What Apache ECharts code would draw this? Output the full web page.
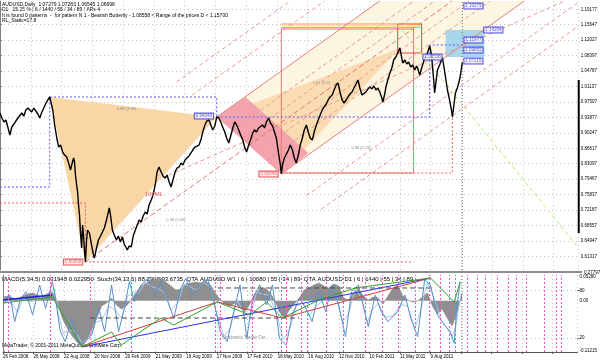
<!DOCTYPE html>
<html><head><meta charset="utf-8">
<script src="https://cdn.jsdelivr.net/npm/echarts@6.0.0/dist/echarts.min.js"></script>
<style>html,body{margin:0;padding:0;background:#fff;}#chart{width:600px;height:362px;}</style>
</head><body><div id="chart"></div>
<script>
// ---------- DATA (x = weeks since 26 Feb 2008) ----------
const dateLabels = ['26 Feb 2008','26 May 2008','22 Aug 2008','20 Nov 2008','20 Feb 2009','21 May 2009','19 Aug 2009','17 Nov 2009','17 Feb 2010','18 May 2010','16 Aug 2010','12 Nov 2010','10 Feb 2011','11 May 2011','9 Aug 2011'];
const priceTicks = [1.19177,1.15647,1.12027,1.08397,1.04787,1.01137,0.97507,0.93877,0.90247,0.86617,0.83097,0.79467,0.75837,0.72187,0.68557,0.64947,0.61317];
const currentPrice = 1.06698;
const currentWeek = 195.4;
const currentTime = '2011.10.28 09:43';

const priceSeries = [
[0,0.9492],[0.8,0.9376],[1.7,0.9282],[2.5,0.9329],[3.4,0.9142],[4.2,0.8978],[5.0,0.9165],[5.9,0.9235],[6.7,0.9305],[7.6,0.9376],[8.4,0.9399],[9.2,0.9492],[10.1,0.9422],[10.9,0.9563],[11.8,0.9609],[12.6,0.9633],[13.4,0.9516],[14.3,0.9609],[15.1,0.9563],[16.0,0.9469],[16.8,0.9376],[17.7,0.9516],[18.5,0.9609],[19.3,0.9703],[20.2,0.9797],[21.0,0.9867],
[21.9,0.9656],[22.3,0.9563],[23.1,0.9212],[24.0,0.8908],[24.8,0.8697],[25.6,0.8744],[26.5,0.8580],[27.3,0.8510],[28.2,0.8463],[29.0,0.8323],[29.8,0.8159],[30.3,0.8276],[31.1,0.8440],[31.5,0.8346],[31.9,0.8042],[32.4,0.7809],[32.8,0.7645],[33.2,0.7341],[33.6,0.7107],[34.0,0.6709],[34.5,0.6335],[34.9,0.6873],[35.3,0.6639],[35.7,0.6288],[36.1,0.6008],
[36.6,0.6522],[37.0,0.6756],[37.8,0.6686],[38.7,0.6405],[39.5,0.6172],[39.9,0.6101],[40.8,0.6335],[41.6,0.6522],[42.5,0.6616],[43.3,0.6709],[44.1,0.6803],[45.0,0.6990],[45.8,0.7177],[46.2,0.7271],[46.7,0.7107],[47.5,0.6756],[48.3,0.6639],[49.2,0.6522],[50.0,0.6616],[50.9,0.6476],[51.7,0.6592],[52.5,0.6429],[53.4,0.6335],[53.8,0.6288],[54.6,0.6382],[55.5,0.6359],[56.3,0.6616],[57.2,0.6756],[58.0,0.6873],
[58.8,0.6990],[59.7,0.6943],[60.5,0.7084],[61.4,0.7177],[62.2,0.7130],[63.0,0.7341],[63.9,0.7458],[64.7,0.7575],[65.6,0.7809],[66.4,0.8113],[67.2,0.8230],[68.1,0.8113],[68.9,0.8019],[69.8,0.7972],[70.6,0.8042],[71.5,0.7879],[72.3,0.7762],[73.1,0.7926],[74.0,0.8113],[74.8,0.8206],[75.7,0.8230],[76.5,0.8323],[77.3,0.8276],[78.2,0.8393],[79.0,0.8440],[79.9,0.8487],[80.7,0.8557],[81.5,0.8627],[82.4,0.8697],[83.2,0.8674],[84.1,0.8744],[84.9,0.8861],[85.7,0.9048],[86.6,0.9212],[87.4,0.9305],[88.3,0.9329],[89.1,0.9212],[89.9,0.9095],[90.8,0.9188],[91.6,0.9399],[92.5,0.9376],[93.3,0.9282],[94.1,0.9165],[95.0,0.9048],[95.8,0.8908],[96.7,0.8791],[97.5,0.8955],[98.4,0.9142],[99.2,0.9282],[100.0,0.9212],[100.9,0.9095],[101.7,0.8978],[102.6,0.8861],[103.4,0.8697],[104.2,0.8580],
[105.1,0.8744],[105.9,0.8861],[106.8,0.9025],[107.6,0.9095],[108.4,0.9048],[109.3,0.9142],[110.1,0.9165],[111.0,0.9212],[111.8,0.9142],[112.6,0.9282],[113.5,0.9376],[114.3,0.9259],[115.2,0.9188],[116.0,0.9142],[116.8,0.8908],[117.7,0.8557],[118.5,0.8276],[118.9,0.8066],[119.4,0.8276],[120.2,0.8440],[121.0,0.8463],[121.9,0.8627],[122.7,0.8744],[123.6,0.8627],[124.4,0.8440],[125.2,0.8323],[126.1,0.8510],[126.9,0.8744],[127.8,0.8908],[128.6,0.9095],[129.5,0.9212],[130.3,0.9048],[131.1,0.8908],[132.0,0.8861],[132.8,0.9048],[133.7,0.9212],[134.5,0.9329],[135.3,0.9446],[136.2,0.9563],[137.0,0.9633],[137.9,0.9703],[138.7,0.9797],[139.5,0.9867],[140.4,0.9913],[141.2,1.0030],[142.1,1.0147],[142.9,1.0194],[143.7,0.9984],[144.6,0.9797],[145.4,0.9726],[146.3,0.9797],[147.1,0.9867],[147.9,0.9937],[148.8,0.9984],[149.6,1.0077],[150.5,1.0171],[151.3,1.0264],[152.1,1.0077],[153.0,0.9913],[153.8,0.9867],[154.7,0.9984],[155.5,1.0054],[156.4,1.0101],[157.2,1.0054],[158.0,1.0124],[158.9,1.0030],[159.7,1.0077],[160.5,0.9984],[161.4,0.9843],[161.8,0.9750],[162.7,0.9960],[163.1,1.0101],[163.9,1.0264],[164.8,1.0428],[165.6,1.0545],[166.4,1.0732],[167.3,1.0802],[168.1,1.0896],[169.0,1.1013],[169.8,1.0779],[170.2,1.0662],[171.1,1.0732],[171.9,1.0638],[172.7,1.0685],[173.6,1.0568],[174.4,1.0615],[175.3,1.0498],[176.1,1.0592],[176.5,1.0545],[177.4,1.0381],[178.2,1.0545],[179.0,1.0685],[179.5,1.0779],[180.3,1.0849],[181.1,1.0966],[181.6,1.1059],[182.4,1.0849],[182.8,1.0568],[183.3,1.0264],[183.7,0.9960],[184.1,1.0147],[184.9,1.0498],[185.8,1.0615],[186.6,1.0732],[187.0,1.0779],[187.5,1.0615],[188.3,1.0334],[189.1,1.0030],[190.0,0.9797],[190.8,0.9563],[191.2,0.9399],[191.7,0.9609],[192.1,0.9797],[192.5,0.9960],[193.3,1.0077],[194.2,1.0264],[194.6,1.0381],[195.4,1.0670]
];

// Butterfly pattern zones
const zoneXAB = [[21.0,0.9867],[36.1,0.6008],[91.6,0.9399]];
const zoneBCD = [[91.6,0.9399],[118.9,0.8066],[169.0,1.1013]];
const zonePink = [[91.6,0.9399],[103.8,0.9867],[130.3,0.8557],[118.9,0.8066]];
const zoneFork = [[91.6,0.9399],[160.5,1.2112],[221.6,1.2112],[118.9,0.8066]];
const boxBig = [[118.9,1.1457],[174.8,0.8089]];
const boxRed = [[168.1,1.1574],[178.2,1.0896]];
const boxBlue = [[188.3,1.1434],[204.7,1.0802]];
const levelOrange = [[118.9,1.1574],[177.8,1.1574]];
const levelYellow = [[118.9,1.1527],[177.8,1.1527]];
const levelCyan = [[118.9,1.1492],[177.8,1.1492]];
const guideBlueX = [[0,0.7762],[21.0,0.7762],[21.0,0.9867],[91.6,0.9867],[91.6,0.9399]];
const guideBlueB = [[91.6,0.9399],[181.6,0.9399],[181.6,1.1083],[196.3,1.1083]];
const guideRedA = [[0,0.7388],[36.1,0.7388],[36.1,0.6008],[174.8,0.6008]];
const guideRedC = [[118.9,0.8089],[191.2,0.8089],[191.2,0.9399]];
const greenProjection = [[168.1,1.1551],[244.6,0.6335]];
// Andrews pitchfork (pivot A, handles B and C) and its Fibonacci lines
const forkTines = [
  [[91.6,0.9399],[160.5,1.2112]],
  [[118.9,0.8066],[221.6,1.2112]]
];
const forkMedian = [[36.1,0.6008],[191.1,1.2112]];
const forkLevels = [
  [[112.5,0.8382],[207.2,1.2112]],
  [[108.5,0.8576],[198.3,1.2112]],
  [[102.0,0.8889],[183.8,1.2112]],
  [[98.1,0.9083],[174.9,1.2112]],
  [[81.2,0.9909],[137.2,1.2112]],
  [[74.7,1.0222],[122.7,1.2112]],
  [[129.4,0.7556],[244.6,1.2086]],
  [[135.8,0.7243],[244.6,1.1527]],
  [[68.5,0.7972],[238.7,1.2112]]
];
const priceBoxes = [
  [30.9,0.6008,'0.60068','r'],[86.2,0.9422,'0.94048','b'],[113.5,0.8066,'0.80648','r'],[182.8,1.0802,'1.08558','b'],
  [200.1,1.1995,'1.16279','b'],[208.5,1.1434,'1.14264','b'],[200.1,1.1200,'1.11977','b'],[200.1,1.0966,'1.09865','b'],[200.1,1.0709,'1.07215','b']
];
const notes = [[53.4,0.9586,'0.88 (3.98)'],[74.4,0.6990,'0.38 (5.68)'],[135.8,1.0194,'1.97 (7.0)'],[152.6,0.8674,'0.88 (3.78)']];
const noteML = [65.1,0.7598,'100ML'];

// Sub window: MACD(5,34,5) histogram, Stoch(34,13,5)
const macdSeries = [[0,0.0082],[2.1,0.0105],[4.2,0.0060],[6.3,0.0038],[8.4,0.0105],[10.5,0.0149],[12.6,0.0172],[14.7,0.0127],[16.8,0.0082],[18.9,0.0149],[21.0,0.0194],[23.1,-0.0029],[25.2,-0.0386],[27.3,-0.0609],[29.4,-0.0787],[31.5,-0.0921],[33.6,-0.1032],[35.7,-0.0876],[37.8,-0.0653],[39.9,-0.0386],[42.0,-0.0118],[44.1,-0.0051],[46.2,0.0060],[48.3,-0.0096],[50.4,-0.0185],[52.5,-0.0118],[54.6,0.0016],[56.7,0.0194],[58.8,0.0328],[60.9,0.0395],[63.0,0.0461],[65.1,0.0484],[67.2,0.0506],[69.3,0.0417],[71.5,0.0328],[73.6,0.0239],[75.7,0.0261],[77.8,0.0372],[79.9,0.0395],[82.0,0.0417],[84.1,0.0395],[86.2,0.0439],[88.3,0.0350],[90.4,0.0172],[92.5,0.0016],[94.6,-0.0074],[96.7,-0.0118],[98.8,-0.0051],[100.9,-0.0163],[103.0,-0.0252],[105.1,-0.0074],[107.2,0.0149],[109.3,0.0261],[111.4,0.0283],[113.5,0.0194],[115.6,0.0016],[117.7,-0.0252],[119.8,-0.0386],[121.9,-0.0207],[124.0,-0.0074],[126.1,0.0060],[128.2,0.0239],[130.3,0.0283],[132.4,0.0350],[134.5,0.0395],[136.6,0.0328],[138.7,0.0283],[140.8,0.0372],[142.9,0.0328],[145.0,0.0060],[147.1,0.0016],[149.2,0.0194],[151.3,0.0261],[153.4,0.0105],[155.5,0.0016],[157.6,0.0082],[159.7,0.0060],[161.8,-0.0074],[163.9,0.0105],[166.0,0.0283],[168.1,0.0350],[170.2,0.0105],[172.3,0.0016],[174.4,-0.0029],[176.5,-0.0007],[178.6,0.0082],[180.7,0.0172],[182.8,-0.0118],[184.9,-0.0296],[187.0,-0.0185],[189.1,-0.0386],[191.2,-0.0564],[193.3,-0.0252],[195.4,0.0172]];
const stochMain = [[0,61.5],[2.9,74.1],[5.0,40.6],[7.1,65.7],[9.7,78.3],[12.6,49.0],[15.6,86.7],[18.1,57.3],[21.0,90.9],[22.3,69.9],[24.4,28.0],[26.5,15.4],[29.4,44.8],[32.4,11.2],[34.9,15.4],[37.8,23.8],[40.8,57.3],[43.3,28.0],[46.2,86.7],[49.2,28.0],[51.7,57.3],[53.8,90.9],[55.9,65.7],[58.8,86.7],[61.8,95.0],[64.3,74.1],[67.2,90.9],[70.2,65.7],[72.7,44.8],[75.7,82.5],[77.8,95.0],[80.7,74.1],[84.1,86.7],[87.0,95.0],[89.5,69.9],[92.5,28.0],[95.4,15.4],[97.9,49.0],[100.9,86.7],[103.8,19.6],[106.3,69.9],[109.3,86.7],[112.2,61.5],[114.7,86.7],[117.7,19.6],[120.6,11.2],[123.1,49.0],[126.1,69.9],[129.0,57.3],[131.6,40.6],[134.5,78.3],[137.4,53.2],[140.0,86.7],[142.9,61.5],[145.8,21.7],[148.4,78.3],[151.3,86.7],[154.3,49.0],[155.5,34.3],[158.5,74.1],[161.0,53.2],[163.9,40.6],[168.1,53.2],[171.1,74.1],[173.6,44.8],[176.5,21.7],[179.5,93.1],[182.0,86.7],[184.9,49.0],[187.9,36.4],[190.4,28.0],[192.1,13.3],[193.3,61.5],[194.6,90.9]];
const stochSignal = [[1.3,66],[4.2,62],[6.3,52],[8.4,70],[11.3,65],[14.3,68],[16.8,72],[19.8,78],[21.9,82],[23.5,52],[25.6,25],[28.2,30],[30.7,28],[33.6,14],[36.6,20],[39.5,40],[42.0,42],[45.0,60],[47.9,55],[50.4,45],[53.0,72],[55.1,78],[57.6,76],[60.5,90],[63.0,85],[66.0,82],[68.5,78],[71.5,56],[74.4,64],[76.9,88],[79.4,85],[82.4,80],[85.3,90],[88.3,84],[91.2,48],[94.1,22],[96.7,32],[99.6,68],[102.6,52],[105.1,45],[108.0,78],[110.5,75],[113.5,74],[116.4,50],[119.4,18],[121.9,30],[124.8,60],[127.8,64],[130.3,48],[133.2,60],[135.8,66],[138.7,72],[141.6,74],[144.6,40],[147.1,50],[150.0,82],[152.6,70],[155.1,40],[157.2,55],[159.7,64],[162.7,46],[166.0,48],[169.4,62],[172.3,60],[175.3,32],[177.8,55],[180.7,90],[183.7,68],[186.6,42],[189.1,32],[191.2,22],[192.9,36],[195.0,76]];
const qtaBlueA = [[0,0.0016],[21.0,0.0127]];
const qtaBlueB = [[33.6,-0.1032],[182.0,0.0506]];
const qtaRed = [[33.6,-0.1032],[91.2,-0.0029],[118.9,-0.0386],[182.0,0.0506]];
const qtaGreen = [[0,-0.0051],[21.0,0.0082],[33.6,-0.1032],[46.2,-0.0698],[50.4,-0.0987],[67.2,-0.0386],[72.7,-0.0542],[91.2,-0.0029],[105.1,-0.0319],[112.2,-0.0029],[118.9,-0.0386],[134.5,0.0016],[150.0,0.0283],[182.0,0.0506],[192.1,-0.0029],[194.6,0.0417]];
const qtaLevelHigh = [[91.6,0.0283],[182.0,0.0283]];
const qtaLevelLow = [[37.0,-0.0386],[126.1,-0.0386]];
const timeMarkers = [2.1,20.2,37.0,54.6,90.4,92.5,105.9,118.5,120.6,126.9,129.5,137.4,145.0,154.3,161.4,168.1,175.7,181.6,186.2,190.0,192.5,197.5,201.7,205.1,210.2,215.2,218.6,222.8,230.3,235.4,237.5];

// ---------- CHART ----------
const FONT = 'Liberation Sans';
const X_MAX = 244.6;
const chart = echarts.init(document.getElementById('chart'), null, {renderer:'canvas'});
const dotted = {color:'#c4c4c4', type:[1,3], width:1};

function seg(data, color, type, width, z) {
  return {type:'line', xAxisIndex:0, yAxisIndex:0, data, symbol:'none', silent:true, z: z||3,
    lineStyle:{color, type: type||'solid', width: width||1}};
}
function subSeg(data, color, type, width, yIdx) {
  return {type:'line', xAxisIndex:1, yAxisIndex: yIdx||1, data, symbol:'none', silent:true, z:4,
    lineStyle:{color, type: type||'solid', width: width||1}};
}
function poly(points, fill, stroke, z) {
  return {type:'custom', xAxisIndex:0, yAxisIndex:0, silent:true, z: z||1, clip:true,
    data:[[points[0][0], points[0][1]]],
    renderItem:(params, api)=>({type:'polygon', shape:{points: points.map(p=>api.coord(p))},
      style:{fill: fill||'none', stroke: stroke||'none', lineWidth:1}})};
}
function rect(c, fill, stroke, z) {
  return poly([[c[0][0],c[0][1]],[c[1][0],c[0][1]],[c[1][0],c[1][1]],[c[0][0],c[1][1]]], fill, stroke, z);
}

const series = [
  poly(zoneFork, '#fcf5e2', null, 0),
  poly(zoneXAB, '#f9d6a5', null, 1),
  poly(zoneBCD, '#fbdcb2', null, 1),
  poly(zonePink, '#f4a3ac', null, 2),
  rect(boxBlue, '#a9d6ea', null, 2),
  rect(boxBig, 'none', '#e47a72', 3),
  rect(boxRed, 'none', '#e8443a', 3),
  seg(levelOrange, '#f5a040'), seg(levelYellow, '#f3e050'), seg(levelCyan, '#7fd0e8'),
  seg(guideBlueX, '#5b5bff', [2,2]), seg(guideBlueB, '#5b5bff', [2,2]),
  seg(guideRedA, '#f06060', [2,2]), seg(guideRedC, '#f06060', [2,2]),
  seg(greenProjection, '#b4f060', [4,3]),
  ...forkTines.map(d=>seg(d, '#e3827a', 'solid', 1)),
  seg(forkMedian, '#e07a72', [5,3], 1),
  ...forkLevels.map(d=>seg(d, '#eb9a92', [4,3], 1)),
  {type:'line', xAxisIndex:0, yAxisIndex:0, data: priceSeries, symbol:'none', silent:true, z:6,
   lineStyle:{color:'#000', width:1.4},
   markLine:{symbol:'none', silent:true, animation:false,
     data:[{yAxis: currentPrice}],
     lineStyle:{opacity:0},
     label:{position:'end', formatter: currentPrice.toFixed(5), backgroundColor:'#000', color:'#fff',
       fontSize:4.5, fontFamily:FONT, padding:[1,2,1,1], distance:1}}},
  {type:'line', xAxisIndex:0, yAxisIndex:0, data:[[currentWeek,0.58207],[currentWeek,1.21118]], symbol:'none', silent:true, z:2,
   lineStyle:{color:'#707070', type:[1,2], width:1}},
  {type:'line', xAxisIndex:0, yAxisIndex:0, data:[[X_MAX,1.0264],[X_MAX,0.6686]], symbol:'none', silent:true, clip:false, z:7,
   lineStyle:{color:'#000', width:2}},
  {type:'scatter', xAxisIndex:0, yAxisIndex:0, symbolSize:0, silent:true, z:8,
   data: priceBoxes.map(b=>({value:[b[0],b[1]], name:b[2],
     label:{color: b[3]==='r' ? '#e03030' : '#3030d0', borderColor: b[3]==='r' ? '#e03030' : '#3030d0'}})),
   label:{show:true, position:'inside', formatter: p=>p.name, fontSize:4.5, fontFamily:FONT,
     backgroundColor:'#fff', borderWidth:1, padding:[0,1]}
  },
  {type:'scatter', xAxisIndex:0, yAxisIndex:0, symbolSize:0, silent:true, z:8,
   data: notes.map(n=>({value:[n[0],n[1]], name:n[2]})),
   label:{show:true, position:'inside', formatter:p=>p.name, fontSize:4, fontFamily:FONT, color:'#777'}},
  {type:'scatter', xAxisIndex:0, yAxisIndex:0, symbolSize:0, silent:true, z:8,
   data: [{value:[noteML[0],noteML[1]], name:noteML[2]}],
   label:{show:true, position:'inside', formatter:p=>p.name, fontSize:6, fontWeight:'bold', fontFamily:FONT, color:'#e06060'}},
  // sub window
  {type:'line', xAxisIndex:1, yAxisIndex:1, data: macdSeries, symbol:'none', silent:true, z:2,
   lineStyle:{color:'#8a8a8a', width:0.6}, areaStyle:{color:'#8f8f8f', opacity:1},
   markLine:{symbol:'none', silent:true, animation:false,
     data: timeMarkers.map(w=>({xAxis:w})),
     lineStyle:{color:'#ff4fc8', type:[2,2], width:1}, label:{show:false}}},
  subSeg(stochSignal, '#a9c9ea', 'solid', 1, 2),
  subSeg(stochMain, '#5a8fcc', 'solid', 1, 2),
  subSeg(qtaLevelHigh, '#444', [5,3], 1),
  subSeg(qtaLevelLow, '#444', [5,3], 1),
  subSeg(qtaBlueA, '#2020e0', 'solid', 1.5),
  subSeg(qtaBlueB, '#3030f0', 'solid', 1),
  subSeg(qtaRed, '#d04040', 'solid', 1),
  subSeg(qtaGreen, '#30a030', 'solid', 1),
  {type:'line', xAxisIndex:1, yAxisIndex:1, data:[[currentWeek,-0.11438],[currentWeek,0.05726]], symbol:'none', silent:true, z:5,
   lineStyle:{color:'#707070', type:[1,2], width:1},
   markLine:{symbol:'none', silent:true, animation:false, data:[{xAxis: currentWeek}], lineStyle:{opacity:0},
     label:{position:'start', formatter: currentTime, backgroundColor:'#000', color:'#fff', fontSize:4.5, fontFamily:FONT, padding:[1,2], distance:1}}}
];

const option = {
  animation:false,
  backgroundColor:'#ffffff',
  grid:[
    {left:0, top:1, width:582, height:269},
    {left:0, top:275, width:582, height:77}
  ],
  xAxis:[
    {type:'value', gridIndex:0, min:0, max:X_MAX, interval:13,
     axisLine:{show:false}, axisTick:{show:false}, axisLabel:{show:false}, splitLine:{show:true, lineStyle:dotted}},
    {type:'value', gridIndex:1, min:0, max:X_MAX, interval:13,
     axisLine:{show:true, onZero:false, lineStyle:{color:'#555', width:1}},
     axisTick:{show:true, length:2, lineStyle:{color:'#555'}},
     axisLabel:{show:true, align:'left', margin:2, fontSize:4.5, fontFamily:FONT, color:'#000',
       showMaxLabel:false, formatter: v => dateLabels[Math.round(v/13)] || ''},
     splitLine:{show:true, lineStyle:dotted}}
  ],
  yAxis:[
    {type:'value', gridIndex:0, position:'right', min:0.58207, max:1.21118,
     axisLine:{show:true, lineStyle:{color:'#808080'}},
     axisTick:{show:true, length:2, customValues: priceTicks, lineStyle:{color:'#808080'}},
     axisLabel:{show:true, customValues: priceTicks, formatter: v=>v.toFixed(5), fontSize:4.5, fontFamily:FONT, color:'#000', margin:2},
     splitLine:{show:true, lineStyle:dotted}},
    {type:'value', gridIndex:1, position:'right', min:-0.11438, max:0.05726,
     axisLine:{show:true, lineStyle:{color:'#808080'}},
     axisTick:{show:true, length:2, customValues:[0.0528,0,-0.11215], lineStyle:{color:'#808080'}},
     axisLabel:{show:true, customValues:[0.0528,0,-0.11215], formatter: v=> v===0 ? '0.00' : v.toFixed(5), fontSize:4.5, fontFamily:FONT, color:'#000', margin:2},
     splitLine:{show:false}},
    {type:'value', gridIndex:1, position:'right', min:2.4, max:99.2,
     axisLine:{show:false},
     axisTick:{show:true, length:2, customValues:[80,20]},
     axisLabel:{show:true, customValues:[80,20], formatter: v=>String(v), fontSize:4.5, fontFamily:FONT, color:'#000', margin:2},
     splitLine:{show:true, lineStyle:dotted}}
  ],
  graphic:[
    {type:'rect', shape:{x:0, y:271, width:582, height:2}, style:{fill:'#8c8c8c'}, silent:true},
    {type:'text', left:584, top:270, style:{text:'0.27797', fontSize:4.5, fontFamily:FONT, fill:'#000'}},
    {type:'text', left:2, top:2, style:{text:'AUDUSD,Daily  1.07279 1.07283 1.06545 1.06698', fontSize:5, fontFamily:FONT, fill:'#000'}},
    {type:'text', left:2, top:7.5, style:{text:'D1   15.25 % | 6 / 1440 / 55 / 34 / 89 / ARs-4', fontSize:5, fontFamily:FONT, fill:'#000'}},
    {type:'text', left:2, top:13, style:{text:'It is found 0 patterns  -  for pattern N 1 - Bearish Butterfly - 1.08558 < Range of the prices D < 1.15700', fontSize:5, fontFamily:FONT, fill:'#000'}},
    {type:'text', left:2, top:18.5, style:{text:'RL_Static=17.8', fontSize:5, fontFamily:FONT, fill:'#000'}},
    {type:'text', left:2, top:276.5, style:{text:'MACD(5,34,5) 0.031948 0.022950  Stoch(34,13,5) 88.2907 93.6735  QTA AUDUSD W1 | 6 | 10080 | 55 | 34 | 89  QTA AUDUSD D1 | 6 | 1440 | 55 | 34 | 89', fontSize:6, fontFamily:FONT, fill:'#000'}},
    {type:'text', left:2, top:343, style:{text:'MetaTrader, \u00a9 2001-2011 MetaQuotes Software Corp.', fontSize:5, fontFamily:FONT, fill:'#000'}},
    {type:'text', left:222, top:335, style:{text:'Stochastic Trader Osi', fontSize:4.5, fontFamily:FONT, fill:'#888'}}
  ],
  series
};
chart.setOption(option);
</script></body></html>
